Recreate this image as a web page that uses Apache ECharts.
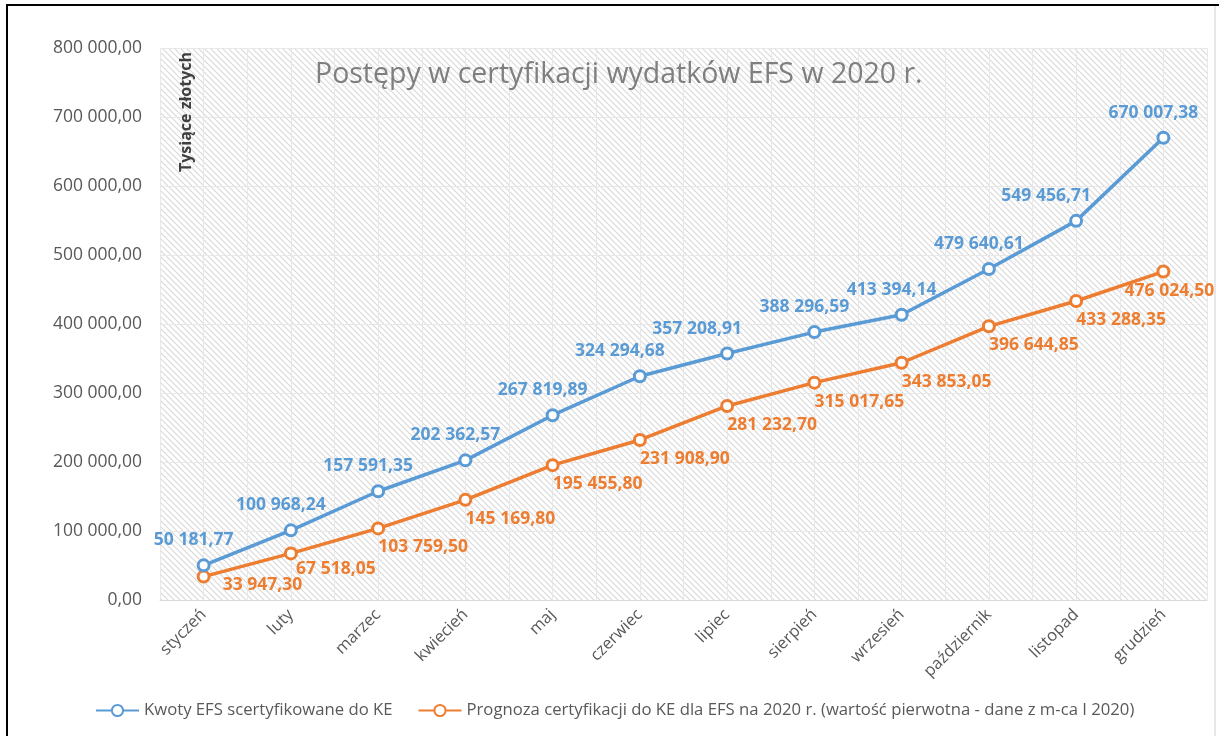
<!DOCTYPE html>
<html>
<head>
<meta charset="utf-8">
<script src="https://cdn.jsdelivr.net/npm/echarts@6/dist/echarts.min.js"></script>
<style>
html,body{margin:0;padding:0;background:#fff;}
#chart{width:1219px;height:736px;}
</style>
</head>
<body>
<div id="chart"></div>
<script>
const months = ['styczeń','luty','marzec','kwiecień','maj','czerwiec','lipiec','sierpień','wrzesień','październik','listopad','grudzień'];
const certified = [50181.77, 100968.24, 157591.35, 202362.57, 267819.89, 324294.68, 357208.91, 388296.59, 413394.14, 479640.61, 549456.71, 670007.38];
const forecast = [33947.30, 67518.05, 103759.50, 145169.80, 195455.80, 231908.90, 281232.70, 315017.65, 343853.05, 396644.85, 433288.35, 476024.50];
const seriesNames = ['Kwoty EFS scertyfikowane do KE', 'Prognoza certyfikacji do KE dla EFS na 2020 r. (wartość pierwotna - dane z m-ca I 2020)'];
const titleText = 'Postępy w certyfikacji wydatków EFS w 2020 r.';
const unitText = 'Tysiące złotych';

const BLUE = '#5b9bd5', ORANGE = '#ed7d31', FONT = '"Open Sans", sans-serif';

function fmt(v){
  const s = Number(v).toFixed(2);
  const [i, d] = s.split('.');
  return i.replace(/\B(?=(\d{3})+(?!\d))/g, ' ') + ',' + d;
}

// diagonal hatch pattern
const pc = document.createElement('canvas');
pc.width = 6; pc.height = 6;
const g = pc.getContext('2d');
g.fillStyle = '#ffffff'; g.fillRect(0,0,6,6);
g.strokeStyle = '#d8d8d8'; g.lineWidth = 1.1;
g.beginPath();
g.moveTo(-1,-1); g.lineTo(7,7);
g.moveTo(-4,2); g.lineTo(2,8);
g.moveTo(2,-4); g.lineTo(8,2);
g.stroke();

const halfTicks = Array.from({length: months.length*2}, (_, i) => String(i));

// per-point label placement tweaks (style only)
const blueLabelTweaks = {10: {offset: [-30, 0]}, 5: {offset: [-20, 0]}, 6: {offset: [-30, 0]}};
const orangeLabelTweaks = {0: {position: 'right', distance: 12, offset: [0, 8]}, 1: {distance: 0}, 11: {offset: [6, 0]}};

const chart = echarts.init(document.getElementById('chart'), null, {renderer:'canvas'});
chart.setOption({
  animation: false,
  textStyle: {fontFamily: FONT},
  title: {
    text: titleText, left: 310, top: 55,
    textStyle: {fontFamily: FONT, fontSize: 28.5, fontWeight: 'normal', color: '#7f7f7f'}
  },
  grid: {
    left: 160, right: 12, top: 48, bottom: 136,
    show: true, borderWidth: 0,
    backgroundColor: {image: pc, repeat: 'repeat'}
  },
  legend: {
    left: 90, top: 697, itemGap: 25, itemWidth: 43, itemHeight: 14,
    textStyle: {fontFamily: FONT, fontSize: 16.7, color: '#595959'},
    data: seriesNames
  },
  xAxis: [{
    type: 'category', data: months, boundaryGap: true,
    axisLine: {show: true, lineStyle: {color: '#d9d9d9'}},
    axisTick: {show: false},
    splitLine: {show: false},
    axisLabel: {rotate: 45, fontSize: 16.5, color: '#595959', fontFamily: FONT, margin: 12, interval: 0}
  },{
    type: 'category', data: halfTicks, boundaryGap: true, position: 'bottom',
    axisLine: {show: false}, axisTick: {show: false}, axisLabel: {show: false},
    splitLine: {show: true, interval: 0, lineStyle: {color: '#e8e8e8', width: 1}}
  }],
  yAxis: {
    type: 'value', min: 0, max: 800000, interval: 100000,
    axisLine: {show: false}, axisTick: {show: false},
    splitLine: {show: true, lineStyle: {color: '#e8e8e8', width: 1}},
    axisLabel: {formatter: fmt, fontSize: 17.5, color: '#595959', fontFamily: FONT, margin: 18}
  },
  graphic: [
    {type: 'text', x: 186, y: 112, rotation: Math.PI/2, z: 100,
      style: {text: unitText, font: 'bold 16px "Open Sans", sans-serif', fill: '#404040', align: 'center', verticalAlign: 'middle'}},
    {type: 'polyline', z: 100, shape: {points: [[7,736],[7,5],[1219,5]]}, style: {stroke: '#000', lineWidth: 2, fill: null}},
    {type: 'line', z: 100, shape: {x1: 1215, y1: 6, x2: 1215, y2: 736}, style: {stroke: '#d0d0d0', lineWidth: 1}}
  ],
  series: [{
    name: seriesNames[0], type: 'line', xAxisIndex: 0,
    data: certified.map((v, i) => blueLabelTweaks[i] ? {value: v, label: blueLabelTweaks[i]} : v),
    symbol: 'circle', symbolSize: 11,
    lineStyle: {color: BLUE, width: 3.5},
    itemStyle: {color: '#fff', borderColor: BLUE, borderWidth: 3},
    label: {show: true, position: 'top', distance: 9, offset: [-10, 0], formatter: p => fmt(p.value),
      color: BLUE, fontSize: 17.5, fontWeight: 'bold', fontFamily: FONT},
    z: 3
  },{
    name: seriesNames[1], type: 'line', xAxisIndex: 0,
    data: forecast.map((v, i) => orangeLabelTweaks[i] ? {value: v, label: orangeLabelTweaks[i]} : v),
    symbol: 'circle', symbolSize: 11,
    lineStyle: {color: ORANGE, width: 3.5},
    itemStyle: {color: '#fff', borderColor: ORANGE, borderWidth: 3},
    label: {show: true, position: 'bottom', distance: 3, offset: [45, 0], formatter: p => fmt(p.value),
      color: ORANGE, fontSize: 17.5, fontWeight: 'bold', fontFamily: FONT},
    z: 2
  }]
});
</script>
</body>
</html>
